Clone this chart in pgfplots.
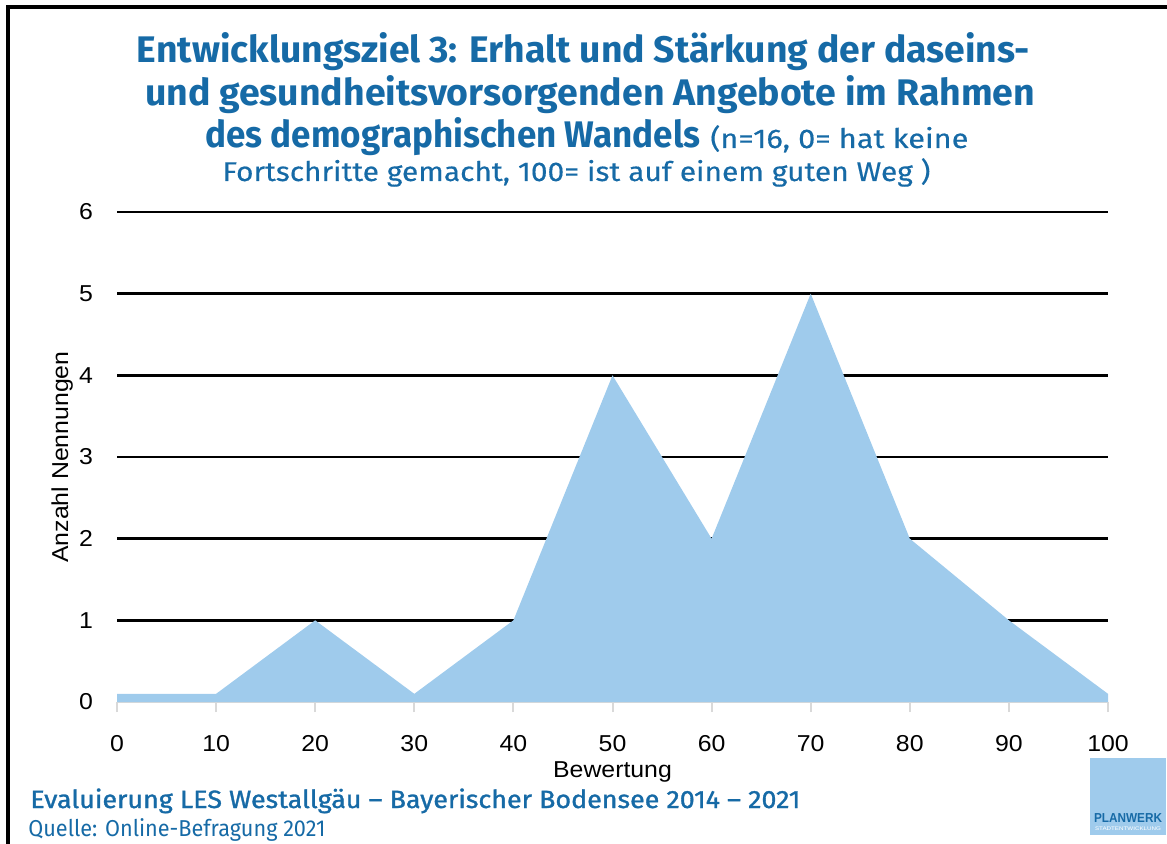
\documentclass[border=0pt]{standalone}
\usepackage{graphicx}
\usepackage{fontspec}
\setmainfont{Liberation Sans}[FakeStretch=1.08]
\newfontfamily\titlefont{Fira Sans}
\usepackage{pgfplots}
\pgfplotsset{compat=1.18}
\definecolor{areablue}{HTML}{9FCBEC}
\definecolor{titleblue}{RGB}{22,106,166}
\definecolor{axisgray}{HTML}{D9D9D9}
\begin{document}
\begin{tikzpicture}
\path[use as bounding box] (0,0) rectangle (583.5pt,-422pt);
% frame
\draw[black, line width=1.6pt] (4pt,-422pt) -- (4pt,-3.5pt) -- (583.5pt,-3.5pt);
% title
\node[anchor=base, inner sep=0pt, text=titleblue] at (291.75pt,-31.5pt)
  {\resizebox{446.5pt}{\height}{\titlefont\bfseries\fontsize{18.5pt}{20pt}\selectfont Entwicklungsziel 3: Erhalt und Stärkung der daseins-}};
\node[anchor=base, inner sep=0pt, text=titleblue] at (295pt,-53pt)
  {\resizebox{445pt}{\height}{\titlefont\bfseries\fontsize{18.5pt}{20pt}\selectfont und gesundheitsvorsorgenden Angebote im Rahmen}};
\node[anchor=base west, inner sep=0pt, text=titleblue] at (102.5pt,-74pt)
  {\resizebox{247.5pt}{\height}{\titlefont\bfseries\fontsize{18.5pt}{20pt}\selectfont des demographischen Wandels}};
\node[anchor=base west, inner sep=0pt, text=titleblue] at (355pt,-74pt)
  {\resizebox{129pt}{\height}{\titlefont\fontsize{13.5pt}{15pt}\selectfont\addfontfeatures{FakeBold=0.3} (n=16, 0= hat keine}};
\node[anchor=base west, inner sep=0pt, text=titleblue] at (111pt,-90.5pt)
  {\resizebox{354pt}{\height}{\titlefont\fontsize{13.5pt}{15pt}\selectfont\addfontfeatures{FakeBold=0.3} Fortschritte gemacht, 100= ist auf einem guten Weg )}};
% footer
\node[anchor=base west, inner sep=0pt, text=titleblue] at (15pt,-404pt)
  {\resizebox{385pt}{\height}{\titlefont\fontsize{12.5pt}{14pt}\selectfont\addfontfeatures{FakeBold=1.2} Evaluierung LES Westallgäu – Bayerischer Bodensee 2014 – 2021}};
\node[anchor=base west, inner sep=0pt, text=titleblue] at (14pt,-418pt)
  {\resizebox{148.5pt}{\height}{\titlefont\fontsize{11.5pt}{13pt}\selectfont Quelle: Online-Befragung 2021}};
% logo
\fill[areablue] (545pt,-379pt) rectangle (583pt,-417.5pt);
\node[anchor=base, inner sep=0pt, text=titleblue] at (564pt,-411pt)
  {\resizebox{34pt}{\height}{\bfseries\fontsize{6.5pt}{7pt}\selectfont PLANWERK}};
\node[anchor=base, inner sep=0pt, text=white] at (564pt,-415.3pt)
  {\resizebox{33pt}{\height}{\fontsize{2.6pt}{3pt}\selectfont STADTENTWICKLUNG}};
\begin{axis}[
  at={(58.5pt,-351pt)}, anchor=south west,
  scale only axis, width=495.5pt, height=245pt,
  xmin=0, xmax=100, ymin=0, ymax=6,
  xtick={0,10,...,100}, ytick={0,1,...,6},
  axis x line*=bottom, axis y line*=left,
  x axis line style={axisgray, line width=1.4pt, -},
  y axis line style={draw=none},
  xtick style={axisgray, line width=1pt},
  ytick style={draw=none},
  tick align=outside, major tick length=5pt,
  ymajorgrids, major grid style={black, line width=1.2pt},
  tick label style={font=\fontsize{11.5pt}{13pt}\selectfont},
  xticklabel style={anchor=base, yshift=-19.5pt},
  yticklabel style={anchor=east, xshift=-3.5pt},
  xlabel={Bewertung}, ylabel={Anzahl Nennungen},
  label style={font=\fontsize{11.5pt}{13pt}\selectfont},
  xlabel style={at={(axis description cs:0.5,0)}, anchor=base, yshift=-37.5pt},
  ylabel style={at={([xshift=-24.5pt]axis description cs:0,0.5)}, anchor=base, rotate=0},
  /pgf/number format/assume math mode=true,
  axis on top=false, clip=false,
]
\addplot[fill=areablue, draw=none] coordinates {
  (0,0.1) (10,0.1) (20,1) (30,0.1) (40,1) (50,4) (60,2) (70,5) (80,2) (90,1) (100,0.1)
} \closedcycle;
\end{axis}
\end{tikzpicture}
\end{document}
